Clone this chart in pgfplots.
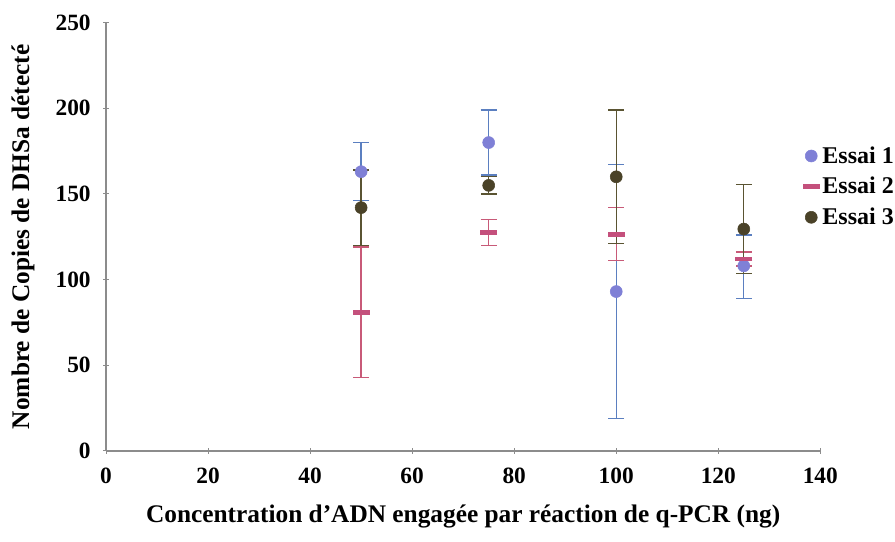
\documentclass[border=0pt]{standalone}
\usepackage{pgfplots}
\pgfplotsset{compat=1.18}
\usepackage{fontspec}
\setmainfont{Liberation Serif}
\definecolor{cA}{HTML}{7F80D6}
\definecolor{cAe}{HTML}{5B7FC0}
\definecolor{cB}{HTML}{C4507C}
\definecolor{cBe}{HTML}{C85A78}
\definecolor{cC}{HTML}{4A4228}
\definecolor{cCe}{HTML}{5A5432}
\definecolor{axgray}{HTML}{8C8C8C}
\begin{document}
\begin{tikzpicture}
\begin{axis}[
  name=ax,
  scale only axis,
  width=535.5pt, height=321pt,
  xmin=0, xmax=140, ymin=0, ymax=250,
  xtick={0,20,...,140}, ytick={0,50,...,250},
  axis x line=bottom, axis y line=left,
  axis line style={axgray, line width=1.1pt, -},
  tick style={axgray, line width=0.8pt},
  major tick length=4pt,
  tick align=center,
  tick label style={font=\bfseries\fontsize{17.5}{20}\selectfont},
  xticklabel style={yshift=-7pt},
  yticklabel style={xshift=-6pt},
  /pgf/number format/assume math mode=true,
  xlabel={\bfseries Concentration d'ADN engagée par réaction de q-PCR (ng)},
  ylabel={\bfseries Nombre de Copies de DHSa détecté},
  label style={font=\bfseries\fontsize{19}{22}\selectfont},
  xlabel style={yshift=-9pt},
  ylabel style={yshift=9pt},
  clip=false,
  legend style={draw=none, fill=none, at={(0.975,0.617)}, anchor=west,
    font=\bfseries\fontsize{18}{21}\selectfont, row sep=5pt,
    legend cell align=left, inner sep=0pt},
  legend image code/.code={\draw[#1] plot coordinates {(0.15cm,0cm)};},
]
\addplot[only marks, mark=*, mark size=4.5pt, color=cA, mark options={fill=cA, draw=cA},
  error bars/.cd, y dir=both, y explicit,
  error bar style={cAe, line width=1pt}, error mark options={cAe, line width=1pt, mark size=6pt, rotate=90}]
  table[x=x, y=y, y error plus=ep, y error minus=em] {
x y ep em
50 163 17 17
75 180 19 19
100 93 74 74
125 108 18 19
};
\addlegendentry{Essai 1}
\addplot[only marks, mark=-, mark size=6.4pt, color=cB, mark options={line width=3.6pt, draw=cB},
  error bars/.cd, y dir=both, y explicit,
  error bar style={cBe, line width=1pt}, error mark options={cBe, line width=1pt, mark size=6pt, rotate=90}]
  table[x=x, y=y, y error plus=ep, y error minus=em] {
x y ep em
50 81 38 38
75 127.5 7.5 7.5
100 126.5 15.5 15.5
125 112 4 4
};
\addlegendentry{Essai 2}
\addplot[only marks, mark=*, mark size=4.5pt, color=cC, mark options={fill=cC, draw=cC},
  error bars/.cd, y dir=both, y explicit,
  error bar style={cCe, line width=1pt}, error mark options={cCe, line width=1pt, mark size=6pt, rotate=90}]
  table[x=x, y=y, y error plus=ep, y error minus=em] {
x y ep em
50 142 22 22
75 155 5 5
100 160 39 39
125 129.5 26 26
};
\addlegendentry{Essai 3}
\end{axis}
\pgfresetboundingbox
\path ([shift={(-79.5pt,-68pt)}]ax.south west) rectangle ([shift={(56pt,17pt)}]ax.north east);
\end{tikzpicture}
\end{document}
